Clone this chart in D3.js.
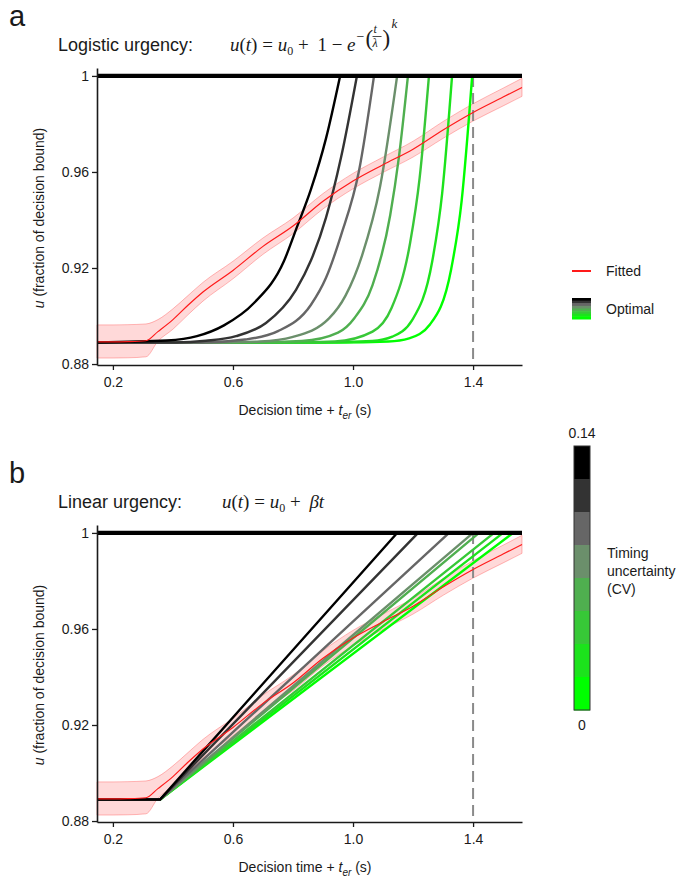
<!DOCTYPE html>
<html>
<head>
<meta charset="utf-8">
<script src="https://cdn.jsdelivr.net/npm/d3@7"></script>
<style>
  body { margin: 0; background: #fff; }
  text { font-family: "Liberation Sans", Arial, sans-serif; fill: #1a1a1a; }
  .serif { font-family: "Liberation Serif", "DejaVu Serif", serif; }
</style>
</head>
<body>
<script>
// ---- data ----
var u0 = 0.889;
var cvLevels = [0.14, 0.12, 0.10, 0.08, 0.06, 0.04, 0.02, 0];

// logistic (Weibull-shaped) optimal urgency, one curve per CV level, [t, u]
var logisticOptimal = [
  [[0.147,0.889],[0.38,0.8898],[0.48,0.8916],[0.57,0.8961],[0.67,0.9054],[0.77,0.9229],[0.81,0.936],[0.86,0.9528],[0.91,0.974],[0.957,1]],
  [[0.147,0.889],[0.41,0.889],[0.51,0.8897],[0.61,0.8916],[0.71,0.8971],[0.81,0.9109],[0.86,0.9232],[0.91,0.941],[0.96,0.966],[1.013,1]],
  [[0.147,0.889],[0.50,0.889],[0.64,0.8902],[0.75,0.8937],[0.86,0.9047],[0.91,0.9159],[0.96,0.9336],[1.02,0.9605],[1.07,1]],
  [[0.147,0.889],[0.55,0.889],[0.69,0.8894],[0.80,0.8913],[0.92,0.899],[0.975,0.9085],[1.03,0.9252],[1.09,0.9538],[1.147,1]],
  [[0.147,0.889],[0.65,0.889],[0.83,0.8896],[0.95,0.8931],[1.005,0.8992],[1.065,0.9129],[1.124,0.9421],[1.153,0.9663],[1.183,1]],
  [[0.147,0.889],[0.80,0.889],[0.94,0.8894],[1.065,0.8935],[1.128,0.9032],[1.19,0.9303],[1.222,0.9575],[1.253,1]],
  [[0.147,0.889],[0.90,0.889],[1.064,0.8896],[1.131,0.8914],[1.197,0.8983],[1.264,0.9228],[1.297,0.9511],[1.33,1]],
  [[0.147,0.889],[0.95,0.889],[1.118,0.8894],[1.187,0.8907],[1.257,0.8966],[1.327,0.9195],[1.362,0.9481],[1.397,1]]
];

// linear optimal urgency: flat until the knee, then straight up to 1
var linearKnee = 0.357;
var linearCross = [1.147, 1.217, 1.32, 1.40, 1.42, 1.47, 1.50, 1.533];

// fitted urgency (mean and band)
var fittedT  = [0.147, 0.20, 0.25, 0.31, 0.35, 0.40, 0.45, 0.50, 0.60, 0.70, 0.80, 0.90, 1.00, 1.10, 1.20, 1.30, 1.40, 1.50, 1.563];
var fittedU  = [0.8892,0.8892,0.8893,0.8897,0.8935,0.8985,0.9045,0.9100,0.9190,0.9290,0.9375,0.9478,0.9562,0.9630,0.9695,0.9775,0.9848,0.9912,0.9952];
var fittedLo = [0.8825,0.8825,0.8826,0.8830,0.8895,0.8945,0.9005,0.9062,0.9155,0.9257,0.9343,0.9446,0.9530,0.9598,0.9662,0.9740,0.9812,0.9875,0.9915];
var fittedHi = [0.8963,0.8963,0.8964,0.8967,0.8985,0.9030,0.9085,0.9140,0.9228,0.9325,0.9408,0.9510,0.9594,0.9662,0.9728,0.9810,0.9884,0.9949,0.9990];

var deadline = 1.4;
var yTicks = [0.88, 0.92, 0.96, 1];
var xTicks = [0.2, 0.6, 1.0, 1.4];

// ---- style ----
var cvColors = ["#000000", "#333333", "#666666", "#6b8f6b", "#4faf4f", "#37c837", "#1ce31c", "#00ff00"];

var svg = d3.select("body").append("svg")
    .attr("width", 687)
    .attr("height", 877);

var x = d3.scaleLinear().domain([0.147, 1.563]).range([97, 522]);

var fitted = fittedT.map((t, i) => ({t: t, u: fittedU[i], lo: fittedLo[i], hi: fittedHi[i]}));

function panel(top, letter, title, formula, optimal, curveType) {
    var y = d3.scaleLinear().domain([0.8796, 1.0033]).range([top + 297, top]),
        g = svg.append("g");

    g.append("text").attr("x", 9).attr("y", top - 42)
        .style("font-size", "29px").text(letter);
    g.append("text").attr("x", 58).attr("y", top - 17)
        .style("font-size", "18px").text(title);
    formula(g, top - 17);

    // fitted band
    g.append("path").datum(fitted)
        .attr("d", d3.area().x(d => x(d.t)).y0(d => y(d.lo)).y1(d => y(d.hi)).curve(d3.curveMonotoneX))
        .attr("fill", "rgba(255,0,0,0.15)")
        .attr("stroke", "rgba(255,60,60,0.35)")
        .attr("stroke-width", 1);

    // deadline
    g.append("line")
        .attr("x1", x(deadline)).attr("x2", x(deadline))
        .attr("y1", y(1)).attr("y2", y.range()[0])
        .attr("stroke", "#8a8a8a").attr("stroke-width", 2)
        .attr("stroke-dasharray", "11,6");

    var line = d3.line().x(d => x(d[0])).y(d => y(d[1])).curve(curveType);

    g.selectAll(".opt")
        .data(optimal.map((p, i) => ({p: p, c: cvColors[i]})).reverse())
      .enter().append("path")
        .attr("class", "opt")
        .attr("d", d => line(d.p))
        .attr("fill", "none")
        .attr("stroke", d => d.c)
        .attr("stroke-width", 2.4);

    g.append("path").datum(fitted)
        .attr("d", d3.line().x(d => x(d.t)).y(d => y(d.u)).curve(d3.curveMonotoneX))
        .attr("fill", "none")
        .attr("stroke", "#ff1a1a")
        .attr("stroke-width", 1.2);

    // decision bound
    g.append("line")
        .attr("x1", x.range()[0]).attr("x2", x.range()[1])
        .attr("y1", y(1)).attr("y2", y(1))
        .attr("stroke", "#000").attr("stroke-width", 4.2);

    var ya = g.append("g").attr("transform", "translate(97,0)")
        .call(d3.axisLeft(y).tickValues(yTicks).tickSize(5).tickSizeOuter(0)
            .tickFormat(d => d === 1 ? "1" : d3.format(".2f")(d)));
    var xa = g.append("g").attr("transform", `translate(0,${top + 297})`)
        .call(d3.axisBottom(x).tickValues(xTicks).tickSize(5).tickSizeOuter(0).tickPadding(7)
            .tickFormat(d3.format(".1f")));
    [ya, xa].forEach(a => {
        a.selectAll("text").style("font-size", "14px").attr("fill", "#1a1a1a");
        a.selectAll("line").attr("stroke", "#1a1a1a").attr("stroke-width", 1.3);
        a.select(".domain").attr("stroke", "#1a1a1a").attr("stroke-width", 1.6);
    });

    var yl = g.append("text")
        .attr("transform", `translate(44,${top + 150}) rotate(-90)`)
        .attr("text-anchor", "middle").style("font-size", "14px");
    yl.append("tspan").style("font-style", "italic").text("u");
    yl.append("tspan").text(" (fraction of decision bound)");

    var xl = g.append("text")
        .attr("x", 305).attr("y", top + 347)
        .attr("text-anchor", "middle").style("font-size", "14px");
    xl.append("tspan").text("Decision time + ");
    xl.append("tspan").style("font-style", "italic").text("t");
    xl.append("tspan").style("font-style", "italic").style("font-size", "10px").attr("dy", 4).text("er");
    xl.append("tspan").attr("dy", -4).text(" (s)");
}

function baseFormula(g, x0, yb) {
    var t = g.append("text").attr("class", "serif").attr("x", x0).attr("y", yb)
        .style("font-size", "19px");
    t.append("tspan").style("font-style", "italic").text("u");
    t.append("tspan").text("(");
    t.append("tspan").style("font-style", "italic").text("t");
    t.append("tspan").text(") = ");
    t.append("tspan").style("font-style", "italic").text("u");
    t.append("tspan").attr("dy", 4).style("font-size", "12px").text("0");
    t.append("tspan").attr("dy", -4).text(" + ");
    return t;
}

function logisticFormula(g, yb) {
    var t = baseFormula(g, 230, yb);
    t.append("tspan").attr("dx", 4).text("1 \u2212 ");
    t.append("tspan").style("font-style", "italic").text("e");
    var x0 = 234 + t.node().getComputedTextLength();
    var s = (xx, yy, size, str, it) => g.append("text").attr("class", "serif")
        .attr("x", xx).attr("y", yy).style("font-size", size + "px")
        .style("font-style", it ? "italic" : "normal").text(str);
    s(x0 + 1, yb - 10, 14, "\u2212");
    s(x0 + 10, yb - 5, 23, "(");
    s(x0 + 18, yb - 18, 12, "t", true);
    s(x0 + 17, yb - 4, 12, "\u03bb", true);
    g.append("line").attr("x1", x0 + 17).attr("x2", x0 + 26)
        .attr("y1", yb - 14.5).attr("y2", yb - 14.5)
        .attr("stroke", "#1a1a1a").attr("stroke-width", 0.8);
    s(x0 + 27, yb - 5, 23, ")");
    s(x0 + 36, yb - 23, 13, "k", true);
}

function linearFormula(g, yb) {
    var t = baseFormula(g, 222, yb);
    t.append("tspan").attr("dx", 4).style("font-style", "italic").text("\u03b2t");
}

panel(68, "a", "Logistic urgency:", logisticFormula, logisticOptimal, d3.curveMonotoneX);

var linearOptimal = linearCross.map(T => [[0.147, u0], [linearKnee, u0], [T, 1]]);
panel(525, "b", "Linear urgency:", linearFormula, linearOptimal, d3.curveLinear);

// legend
var lg = svg.append("g");
lg.append("line").attr("x1", 572).attr("x2", 591).attr("y1", 271).attr("y2", 271)
    .attr("stroke", "#ff1a1a").attr("stroke-width", 2);
lg.append("text").attr("x", 606).attr("y", 276).style("font-size", "14px").text("Fitted");
var sb = d3.scaleBand().domain(cvLevels).range([298, 319]);
lg.selectAll(".sw").data(cvLevels).enter().append("rect")
    .attr("x", 572).attr("width", 19)
    .attr("y", d => sb(d)).attr("height", sb.bandwidth() + 0.5)
    .attr("fill", (d, i) => cvColors[i]);
lg.append("text").attr("x", 606).attr("y", 314).style("font-size", "14px").text("Optimal");

// colour bar
var cb = svg.append("g");
var cy = d3.scaleBand().domain(cvLevels).range([446, 710]);
cb.selectAll(".seg").data(cvLevels).enter().append("rect")
    .attr("x", 574).attr("width", 16)
    .attr("y", d => cy(d)).attr("height", cy.bandwidth() + 0.5)
    .attr("fill", (d, i) => cvColors[i]);
cb.append("rect").attr("x", 574).attr("y", 446).attr("width", 16).attr("height", 264)
    .attr("fill", "none").attr("stroke", "#333").attr("stroke-width", 1);
cb.append("text").attr("x", 582).attr("y", 438).attr("text-anchor", "middle")
    .style("font-size", "14px").text(cvLevels[0]);
cb.append("text").attr("x", 582).attr("y", 730).attr("text-anchor", "middle")
    .style("font-size", "14px").text(cvLevels[cvLevels.length - 1]);
["Timing", "uncertainty", "(CV)"].forEach((s, i) =>
    cb.append("text").attr("x", 607).attr("y", 558 + i * 18).style("font-size", "14px").text(s));
</script>
</body>
</html>
